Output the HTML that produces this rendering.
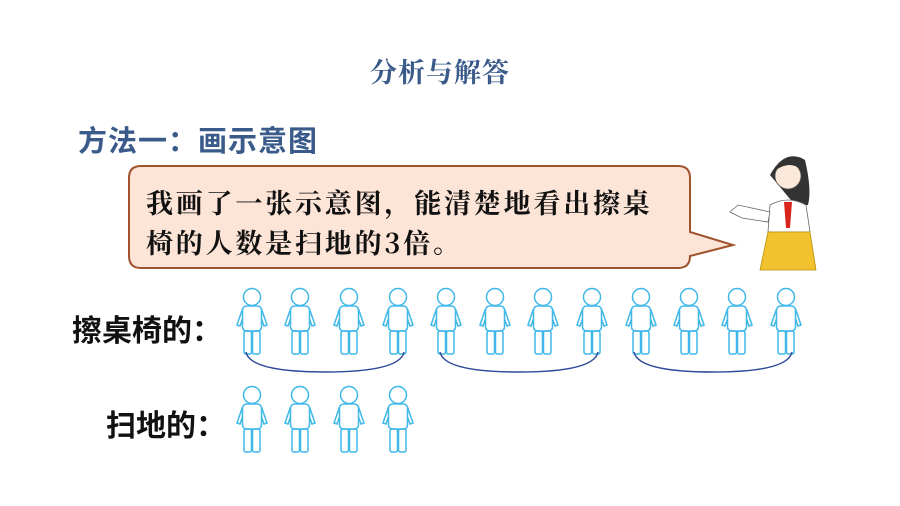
<!DOCTYPE html>
<html><head><meta charset="utf-8"><style>
body{margin:0;width:900px;height:506px;background:#fff;position:relative;overflow:hidden;font-family:"Liberation Sans","Noto Sans CJK SC",sans-serif}
.t{position:absolute;white-space:nowrap}
</style></head><body>
<div class="t" style="left:370px;top:51px;font-size:27px;color:#3a5a8a;font-family:'Noto Serif CJK SC',serif;font-weight:bold;letter-spacing:1px">分析与解答</div>
<div class="t" style="left:78px;top:118px;font-size:29px;color:#3a5a8a;font-weight:bold;letter-spacing:1px">方法一：画示意图</div>
<svg width="900" height="506" style="position:absolute;left:0;top:0">
<defs><g id="p" fill="none" stroke="#3fb8e8" stroke-width="1.5">
<circle cx="0" cy="-42" r="8.5"/>
<rect x="-9.5" y="-33" width="19" height="25" rx="4"/>
<rect x="-8" y="-8" width="7.5" height="23" rx="2"/>
<rect x="0.5" y="-8" width="7.5" height="23" rx="2"/>
<path d="M-9.5,-30 L-15,-14 L-12,-13 L-9.5,-20"/>
<path d="M9.5,-30 L15,-14 L12,-13 L9.5,-20"/>
</g></defs>
<path d="M129,178 Q129,166 141,166 L678,166 Q690,166 690,178 L690,232 L733,245 L690,256 L690,256 Q690,268 678,268 L141,268 Q129,268 129,256 Z" fill="#fce4d6" stroke="#a0522d" stroke-width="2"/>
<g>
<use href="#p" x="252" y="339"/><use href="#p" x="300" y="339"/><use href="#p" x="349" y="339"/><use href="#p" x="398" y="339"/>
<use href="#p" x="446" y="339"/><use href="#p" x="495" y="339"/><use href="#p" x="543" y="339"/><use href="#p" x="592" y="339"/>
<use href="#p" x="641" y="339"/><use href="#p" x="689" y="339"/><use href="#p" x="737" y="339"/><use href="#p" x="786" y="339"/>
</g>
<use href="#p" x="252" y="437"/><use href="#p" x="300" y="437"/><use href="#p" x="349" y="437"/><use href="#p" x="398" y="437"/>
<g fill="none" stroke="#2e4a9a" stroke-width="1.5">
<path d="M246,352 Q250,372 325,372 Q400,372 404,352"/>
<path d="M440,352 Q444,372 519,372 Q594,372 598,352"/>
<path d="M634,352 Q638,372 713,372 Q788,372 792,352"/>
</g>
<g>
<path d="M770,175 Q785,148 805,160 Q812,190 808,205 L795,205 Z" fill="#333"/>
<circle cx="788" cy="176" r="13" fill="#fde9d9" stroke="#555" stroke-width="0.8"/>
<path d="M776,170 Q788,150 802,170 Q790,160 776,170Z" fill="#333"/>
<path d="M770,205 Q788,195 806,205 L810,232 L768,232 Z" fill="#fff" stroke="#666" stroke-width="0.8"/>
<path d="M768,232 L810,232 L816,270 L760,270 Z" fill="#f2c12e" stroke="#b8900a" stroke-width="0.8"/>
<path d="M784,202 L792,202 L790,228 L786,228 Z" fill="#d9261c"/>
<path d="M770,212 L738,205 L730,212 L742,218 L768,222 Z" fill="#fff" stroke="#666" stroke-width="0.8"/>
</g>
</svg>
<div class="t" style="left:146px;top:182px;font-size:27px;color:#111;font-family:'Noto Serif CJK SC',serif;font-weight:bold;line-height:40px;letter-spacing:2.8px">我画了一张示意图，能清楚地看出擦桌<br>椅的人数是扫地的3倍。</div>
<div class="t" style="left:72px;top:306px;font-size:30px;color:#111;font-weight:bold">擦桌椅的：</div>
<div class="t" style="left:106px;top:401px;font-size:30px;color:#111;font-weight:bold">扫地的：</div>
</body></html>
